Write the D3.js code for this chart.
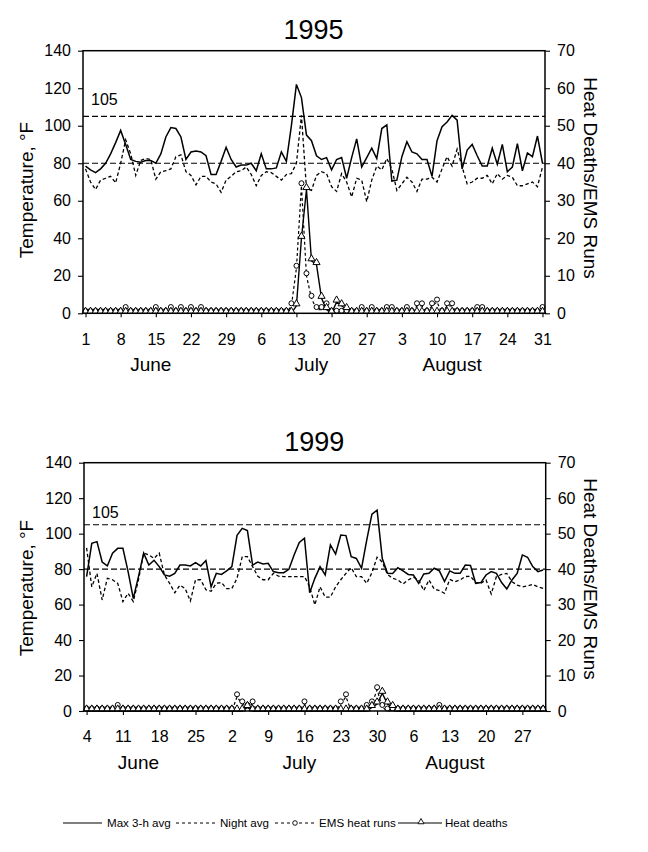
<!DOCTYPE html>
<html>
<head>
<meta charset="utf-8">
<script src="https://cdn.jsdelivr.net/npm/d3@7"></script>
<style>
body { margin: 0; background: #fff; }
svg { display: block; font-family: "Liberation Sans", Arial, sans-serif; }
</style>
</head>
<body>
<svg id="chart" width="648" height="852"></svg>
<script>
// temperature (°F, left axis) and counts (right axis), one value per day
var tempMax1995 = [78.5, 76.5, 75, 77, 80, 85, 91, 97.5, 90, 82,
	81, 80.5, 81.5, 81.5, 80, 85, 94, 99, 98.5, 94,
	82, 86, 86.5, 86, 84, 74, 74, 81, 88.5, 82,
	78, 79, 79, 80, 76, 85, 77, 77, 77.5, 86,
	81, 100, 122, 115, 95, 92, 84, 82, 83, 76.5,
	82, 83, 72, 83, 93, 78, 83, 88, 82.5, 98.5,
	100.5, 70.5, 71, 83.5, 91.5, 86, 85, 82, 82, 73,
	92, 99.5, 102, 105.5, 103, 77, 87, 90, 84, 78.5,
	78.5, 88, 79.5, 90, 75.5, 78, 90.5, 76, 85.5, 83.5,
	94.5, 80];
var tempNight1995 = [77, 70, 66, 71, 72, 73, 69.5, 80, 92.5, 85,
	73.5, 81.5, 82.5, 82, 71.5, 75.5, 76, 77, 83.5, 84.5,
	75.5, 73.5, 68.5, 73, 73, 70, 69, 64.5, 71, 73,
	75.5, 76, 78, 74, 68, 73.5, 75.5, 75, 73, 71,
	74, 74.5, 80, 105.5, 66.5, 65.5, 73.5, 75.5, 74.5, 67.5,
	65, 74.5, 70, 62, 72, 71, 59.5, 71, 78.5, 76.5,
	82.5, 77, 65.5, 69, 72.5, 70, 65, 71.5, 71.5, 72.5,
	70, 77, 83.5, 78.5, 87.5, 78, 69, 70, 72, 72,
	73.5, 69, 74.5, 71.5, 73.5, 72.5, 68, 68, 69, 70,
	67.5, 78];
var ems1995 = [0, 0, 0, 0, 0, 0, 0, 0, 1, 0,
	0, 0, 0, 0, 1, 0, 0, 1, 0, 1,
	0, 1, 0, 1, 0, 0, 0, 0, 0, 0,
	0, 0, 0, 0, 0, 0, 0, 0, 0, 0,
	0, 2, 12, 34, 10, 4, 1, 1, 2, 0,
	0, 0, 0, 0, 0, 1, 0, 1, 0, 0,
	1, 1, 0, 0, 1, 0, 2, 2, 0, 2,
	3, 0, 2, 2, 0, 0, 0, 0, 1, 1,
	0, 0, 0, 0, 0, 0, 0, 0, 0, 0,
	0, 1];
var deaths1995 = [0, 0, 0, 0, 0, 0, 0, 0, 0, 0,
	0, 0, 0, 0, 0, 0, 0, 0, 0, 0,
	0, 0, 0, 0, 0, 0, 0, 0, 0, 0,
	0, 0, 0, 0, 0, 0, 0, 0, 0, 0,
	0, 0, 2, 20, 33, 14, 13, 4, 1, 0,
	3, 2, 1, 0, 0, 0, 0, 0, 0, 0,
	0, 0, 0, 0, 0, 0, 0, 0, 0, 0,
	0, 0, 0, 0, 0, 0, 0, 0, 0, 0,
	0, 0, 0, 0, 0, 0, 0, 0, 0, 0,
	0, 0];

var tempMax1999 = [75.8, 94.5, 95.5, 84, 81.8, 89, 91.7, 91.7, 78.6, 63.5,
	75.8, 89, 82.3, 85, 81.4, 76.7, 76, 77.6, 82.3, 82.3,
	81.8, 83.6, 81.8, 84.8, 70, 77.6, 77, 79, 81.4, 99,
	103, 101.7, 82.3, 84, 82.9, 83.3, 78.6, 78, 78, 79.9,
	88, 95, 97.4, 66.7, 74.8, 81.4, 76.7, 93.6, 88.5, 99.2,
	98.9, 87, 86, 80.5, 96.4, 111, 113.3, 86, 77.6, 77.5,
	80.8, 79, 77, 76.7, 72, 77.3, 77.6, 80.5, 79, 73,
	79, 77.6, 77.6, 82.3, 82.1, 72, 72.4, 76.7, 78.6, 77.6,
	72.4, 68.8, 73.9, 77.6, 88, 86.7, 81.4, 78.6, 79.5];
var tempNight1999 = [92, 70, 77.6, 62.6, 74.8, 74, 72, 61.7, 66.4, 61.7,
	74, 89, 88, 86, 89, 76.7, 72, 66.7, 71, 69,
	62, 74, 74, 68.4, 67.5, 72, 72.4, 69, 69, 74.8,
	87, 87, 81.4, 76, 74, 74, 77.6, 76, 75.8, 75.8,
	75.8, 75.8, 75.8, 70, 59.8, 70, 64.2, 64.2, 70, 74,
	77.6, 80.8, 75.8, 75.8, 72, 78, 86.7, 84, 77, 74.8,
	73.9, 71.6, 73.9, 75.4, 73.9, 67.9, 73.9, 68.8, 67.9, 66.4,
	74.2, 72.9, 73.9, 75.8, 76, 72.4, 72, 73.9, 66, 75.8,
	77, 77.6, 72.9, 71, 70, 70.5, 71.4, 70, 69.2];
var ems1999 = [0, 0, 0, 0, 0, 0, 1, 0, 0, 0,
	0, 0, 0, 0, 0, 0, 0, 0, 0, 0,
	0, 0, 0, 0, 0, 0, 0, 0, 0, 4,
	2, 1, 2, 0, 0, 0, 0, 0, 0, 0,
	0, 0, 2, 0, 0, 0, 0, 0, 0, 2,
	4, 0, 0, 0, 1, 2, 6, 1, 0, 0,
	0, 0, 0, 0, 0, 0, 0, 0, 1, 0,
	0, 0, 0, 0, 0, 0, 0, 0, 0, 0,
	0, 0, 0, 0, 0, 0, 0, 0, 0];
var deaths1999 = [0, 0, 0, 0, 0, 0, 0, 0, 0, 0,
	0, 0, 0, 0, 0, 0, 0, 0, 0, 0,
	0, 0, 0, 0, 0, 0, 0, 0, 0, 0,
	0, 1, 0, 0, 0, 0, 0, 0, 0, 0,
	0, 0, 0, 0, 0, 0, 0, 0, 0, 0,
	0, 0, 0, 0, 0, 1, 2, 5, 2, 1,
	0, 0, 0, 0, 0, 0, 0, 0, 0, 0,
	0, 0, 0, 0, 0, 0, 0, 0, 0, 0,
	0, 0, 0, 0, 0, 0, 0, 0, 0];

var months = ['June', 'July', 'August'];
var monthDates1995 = ['1995-06-14', '1995-07-16', '1995-08-13'];
var monthDates1999 = ['1999-06-14', '1999-07-15', '1999-08-14'];
var tempTicks = [0, 20, 40, 60, 80, 100, 120, 140];
var countTicks = [0, 10, 20, 30, 40, 50, 60, 70];
var refLines = [80, 105];
var refLabel = '105';
var legendItems = ['Max 3-h avg', 'Night avg', 'EMS heat runs', 'Heat deaths'];

(function () {
	'use strict';
	var svg = d3.select('#chart'),
		parse = d3.timeParse('%Y-%m-%d'),
		fmtKey = d3.timeFormat('%Y-%m-%d'),
		panels, drawPanel, drawLegend, triangle;

	triangle = d3.symbol().type(d3.symbolTriangle).size(22);

	panels = [
		{ title: '1995', start: '1995-06-01', end: '1995-09-01',
			max: tempMax1995, night: tempNight1995, ems: ems1995, deaths: deaths1995,
			monthDates: monthDates1995,
			left: 83, right: 545, top: 50.7, bottom: 313.3,
			titleY: 38.5, refLabelY: 105, tempLabelY: 190, countLabelY: 178 },
		{ title: '1999', start: '1999-06-04', end: '1999-09-01',
			max: tempMax1999, night: tempNight1999, ems: ems1999, deaths: deaths1999,
			monthDates: monthDates1999,
			left: 84, right: 545.7, top: 462.7, bottom: 711,
			titleY: 451, refLabelY: 518, tempLabelY: 588, countLabelY: 579 }
	];

	drawPanel = function (p) {
		var days, keys, x, yT, yC, g, xAxis, lineT, lineC, px, tickKeys;

		days = d3.timeDay.range(parse(p.start), parse(p.end));
		keys = days.map(fmtKey);
		x = d3.scalePoint().domain(keys).range([p.left, p.right]).padding(0.5);
		yT = d3.scaleLinear().domain([0, 140]).range([p.bottom, p.top]);
		yC = d3.scaleLinear().domain([0, 70]).range([p.bottom, p.top]);
		px = function (d, i) { return x(keys[i]); };

		g = svg.append('g');

		// title
		g.append('text')
			.attr('x', (p.left + p.right) / 2 - 0.5)
			.attr('y', p.titleY)
			.attr('text-anchor', 'middle')
			.attr('font-size', 27)
			.text(p.title);

		// reference lines
		g.selectAll('line.ref').data(refLines).enter().append('line')
			.attr('class', 'ref')
			.attr('x1', p.left).attr('x2', p.right)
			.attr('y1', function (d) { return yT(d); })
			.attr('y2', function (d) { return yT(d); })
			.attr('stroke', '#000').attr('stroke-width', 1.1)
			.attr('stroke-dasharray', '6,3');
		g.append('text')
			.attr('x', p.left + 8)
			.attr('y', p.refLabelY)
			.attr('font-size', 16)
			.text(refLabel);

		// axes
		tickKeys = keys.filter(function (d, i) { return i % 7 === 0; });
		xAxis = d3.axisBottom(x).tickValues(tickKeys).tickSize(4).tickSizeOuter(0).tickPadding(16)
			.tickFormat(function (d) { return +d.slice(8); });
		g.append('g').attr('transform', 'translate(0,' + p.bottom + ')').call(xAxis)
			.call(function (a) { a.select('.domain').remove(); });
		g.append('g').attr('transform', 'translate(' + p.left + ',0)')
			.call(d3.axisLeft(yT).tickValues(tempTicks).tickSize(5).tickSizeOuter(0).tickPadding(7))
			.call(function (a) { a.select('.domain').remove(); });
		g.append('g').attr('transform', 'translate(' + p.right + ',0)')
			.call(d3.axisRight(yC).tickValues(countTicks).tickSize(5).tickSizeOuter(0).tickPadding(7))
			.call(function (a) { a.select('.domain').remove(); });
		g.selectAll('.tick text').attr('font-size', 16).attr('font-family', null).attr('fill', '#000');
		g.selectAll('.tick line').attr('stroke', '#000').attr('stroke-width', 1.1);

		// month names
		g.selectAll('text.month').data(months).enter().append('text')
			.attr('class', 'month')
			.attr('x', function (d, i) { return x(p.monthDates[i]); })
			.attr('y', p.bottom + 57.5)
			.attr('text-anchor', 'middle')
			.attr('font-size', 19)
			.text(function (d) { return d; });

		// axis titles
		g.append('text')
			.attr('transform', 'translate(33,' + p.tempLabelY + ') rotate(-90)')
			.attr('text-anchor', 'middle')
			.attr('font-size', 19)
			.text('Temperature, °F');
		g.append('text')
			.attr('transform', 'translate(584,' + p.countLabelY + ') rotate(90)')
			.attr('text-anchor', 'middle')
			.attr('font-size', 19)
			.text('Heat Deaths/EMS Runs');

		// series
		lineT = d3.line().x(px).y(function (d) { return yT(d); });
		lineC = d3.line().x(px).y(function (d) { return yC(d); });

		g.append('path').datum(p.night).attr('d', lineT)
			.attr('fill', 'none').attr('stroke', '#000').attr('stroke-width', 1.3)
			.attr('stroke-dasharray', '3.5,2.5');
		g.append('path').datum(p.max).attr('d', lineT)
			.attr('fill', 'none').attr('stroke', '#000').attr('stroke-width', 1.5);
		g.append('path').datum(p.ems).attr('d', lineC)
			.attr('fill', 'none').attr('stroke', '#000').attr('stroke-width', 1.2)
			.attr('stroke-dasharray', '3,2.5');
		g.append('path').datum(p.deaths).attr('d', lineC)
			.attr('fill', 'none').attr('stroke', '#000').attr('stroke-width', 1.4);

		g.selectAll('circle.ems').data(p.ems).enter().append('circle')
			.attr('class', 'ems')
			.attr('cx', px)
			.attr('cy', function (d) { return yC(d) - 2.5; })
			.attr('r', 2.5)
			.attr('fill', '#fff').attr('stroke', '#000').attr('stroke-width', 1);
		g.selectAll('path.tri').data(p.deaths).enter().append('path')
			.attr('class', 'tri')
			.attr('d', triangle)
			.attr('transform', function (d, i) { return 'translate(' + px(d, i) + ',' + (yC(d) - 2) + ')'; })
			.attr('fill', '#fff').attr('stroke', '#000').attr('stroke-width', 1);

		// frame
		g.append('rect')
			.attr('x', p.left).attr('y', p.top)
			.attr('width', p.right - p.left).attr('height', p.bottom - p.top)
			.attr('fill', 'none').attr('stroke', '#000').attr('stroke-width', 1.5);
	};

	drawLegend = function () {
		var g = svg.append('g').attr('font-size', 11.6), y = 823;
		// Max 3-h avg
		g.append('line').attr('x1', 63).attr('x2', 102).attr('y1', y).attr('y2', y)
			.attr('stroke', '#000').attr('stroke-width', 1.2);
		g.append('text').attr('x', 107).attr('y', y + 4.2).text(legendItems[0]);
		// Night avg
		g.append('line').attr('x1', 176).attr('x2', 218).attr('y1', y).attr('y2', y)
			.attr('stroke', '#000').attr('stroke-width', 1.1).attr('stroke-dasharray', '3,3');
		g.append('text').attr('x', 220).attr('y', y + 4.2).text(legendItems[1]);
		// EMS heat runs
		g.append('line').attr('x1', 275).attr('x2', 316).attr('y1', y).attr('y2', y)
			.attr('stroke', '#000').attr('stroke-width', 1.1).attr('stroke-dasharray', '3,3');
		g.append('circle').attr('cx', 295).attr('cy', y).attr('r', 2.3)
			.attr('fill', '#fff').attr('stroke', '#000').attr('stroke-width', 0.9);
		g.append('text').attr('x', 319).attr('y', y + 4.2).text(legendItems[2]);
		// Heat deaths
		g.append('line').attr('x1', 398).attr('x2', 442).attr('y1', y).attr('y2', y)
			.attr('stroke', '#000').attr('stroke-width', 1.2);
		g.append('path').attr('d', d3.symbol().type(d3.symbolTriangle).size(16))
			.attr('transform', 'translate(421,' + (y - 1) + ')')
			.attr('fill', '#fff').attr('stroke', '#000').attr('stroke-width', 0.9);
		g.append('text').attr('x', 445).attr('y', y + 4.2).text(legendItems[3]);
	};

	panels.forEach(drawPanel);
	drawLegend();
}());
</script>
</body>
</html>
